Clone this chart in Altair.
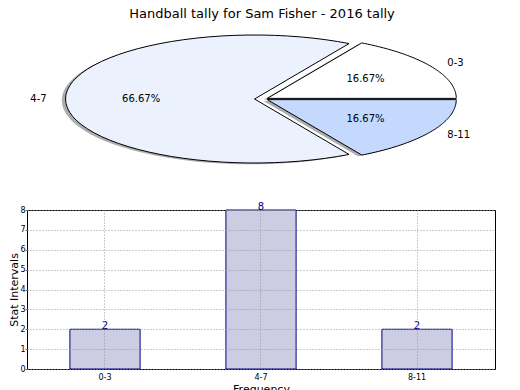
import altair as alt
import pandas as pd

# ---- data ----
categories = ["0-3", "4-7", "8-11"]
counts = [2, 8, 2]
explode = [0.02, 0.05, 0.02]
pie_colors = ["#ffffff", "#ebf1fd", "#c5d8fe"]
title_text = "Handball tally for Sam Fisher - 2016 tally"
y_ticks = [0, 1, 2, 3, 4, 5, 6, 7, 8]

df = pd.DataFrame({"cat": categories, "value": counts, "explode": explode,
                   "order": list(range(len(categories)))})

N = 60
FONT = "DejaVu Sans"

W = 468
PIE_H = 182
BAR_H = 159
# pie scale domains (x: 1 unit = 189 px, y: 1 unit = 64 px)
x_dom = [-237 / 189, -237 / 189 + W / 189]
y_dom = [-PIE_H / 2 / 64, PIE_H / 2 / 64]

xs = alt.Scale(domain=x_dom, nice=False, zero=False)
ys = alt.Scale(domain=y_dom, nice=False, zero=False)


def base_pie():
    return (
        alt.Chart(df)
        .transform_window(cum="sum(value)", sort=[alt.SortField("order")],
                          frame=[None, 0])
        .transform_joinaggregate(total="sum(value)")
        .transform_calculate(
            a0="2*PI*(datum.cum-datum.value)/datum.total",
            a1="2*PI*datum.cum/datum.total",
        )
        .transform_calculate(mid="(datum.a0+datum.a1)/2")
        .transform_calculate(
            ox="datum.explode*cos(datum.mid)",
            oy="datum.explode*sin(datum.mid)",
            pct="format(100*datum.value/datum.total, '.2f') + '%'",
        )
    )


def wedge_points(b, dx=0.0, dy=0.0):
    return (
        b.transform_calculate(idx=f"sequence(0, {N + 3})")
        .transform_flatten(["idx"])
        .transform_calculate(
            apex=f"datum.idx == 0 || datum.idx == {N + 2}",
            ang=f"datum.a0 + (datum.a1 - datum.a0) * clamp((datum.idx - 1) / {N}, 0, 1)",
        )
        .transform_calculate(
            px=f"datum.ox + (datum.apex ? 0 : cos(datum.ang)) + ({dx})",
            py=f"datum.oy + (datum.apex ? 0 : sin(datum.ang)) + ({dy})",
        )
    )


shadow = wedge_points(base_pie(), -0.02, -0.02).mark_line(
    fill="#777777", fillOpacity=0.6, strokeWidth=0
).encode(
    x=alt.X("px:Q", scale=xs, axis=None),
    y=alt.Y("py:Q", scale=ys, axis=None),
    order="idx:Q",
    detail="cat:N",
)

wedges = wedge_points(base_pie()).mark_line(
    stroke="black", strokeWidth=1, strokeJoin="miter"
).encode(
    x=alt.X("px:Q", scale=xs, axis=None),
    y=alt.Y("py:Q", scale=ys, axis=None),
    order="idx:Q",
    detail="cat:N",
    fill=alt.Fill("cat:N", scale=alt.Scale(domain=categories, range=pie_colors),
                  legend=None),
)

pct_text = base_pie().transform_calculate(
    tx="datum.ox + 0.6*cos(datum.mid)", ty="datum.oy + 0.6*sin(datum.mid)"
).mark_text(font=FONT, fontSize=10, color="black").encode(
    x=alt.X("tx:Q", scale=xs, axis=None),
    y=alt.Y("ty:Q", scale=ys, axis=None),
    text="pct:N",
)

lab_base = base_pie().transform_calculate(
    tx="datum.ox + 1.1*cos(datum.mid)", ty="datum.oy + 1.1*sin(datum.mid)"
)
lab_right = lab_base.transform_filter("cos(datum.mid) > 0").mark_text(
    font=FONT, fontSize=10, color="black", align="left"
).encode(
    x=alt.X("tx:Q", scale=xs, axis=None),
    y=alt.Y("ty:Q", scale=ys, axis=None),
    text="cat:N",
)
lab_left = lab_base.transform_filter("cos(datum.mid) <= 0").mark_text(
    font=FONT, fontSize=10, color="black", align="right"
).encode(
    x=alt.X("tx:Q", scale=xs, axis=None),
    y=alt.Y("ty:Q", scale=ys, axis=None),
    text="cat:N",
)

title = alt.Chart(alt.Data(values=[{"t": title_text}])).mark_text(
    font=FONT, fontSize=13, color="black", baseline="top"
).encode(x=alt.value(235), y=alt.value(0), text="t:N")

pie = alt.layer(shadow, wedges, pct_text, lab_right, lab_left, title).properties(
    width=W, height=PIE_H, view=alt.ViewBackground(strokeWidth=0, strokeOpacity=0)
)

# ---- bar chart ----
x_axis = alt.Axis(
    title="Frequency", labelAngle=0, labelFont=FONT, labelFontSize=8,
    labelColor="black", labelPadding=4, tickSize=0, domain=False,
    grid=True, gridColor="#999999", gridDash=[1, 2], bandPosition=0.5,
    titleFont=FONT, titleFontSize=11, titleFontWeight="normal",
    titleColor="black", titlePadding=2, zindex=1,
)
y_axis = alt.Axis(
    title="Stat Intervals", values=y_ticks, labelFont=FONT, labelFontSize=8,
    labelColor="black", labelPadding=0, tickSize=2, tickColor="#666666",
    domain=False, labelOverlap=False,
    grid=True, gridColor="#999999", gridDash=[1, 2],
    titleFont=FONT, titleFontSize=11, titleFontWeight="normal",
    titleColor="black", titlePadding=0, zindex=1,
)
x_scale = alt.Scale(domain=categories, paddingInner=0.55, paddingOuter=0.275)
y_scale = alt.Scale(domain=[0, 8], nice=False)

bars = alt.Chart(df).mark_bar(
    fill="#cccce3", stroke="#000080", strokeWidth=1
).encode(
    x=alt.X("cat:N", scale=x_scale, axis=x_axis),
    y=alt.Y("value:Q", scale=y_scale, axis=y_axis),
)

bar_text = alt.Chart(df).mark_text(
    font=FONT, fontSize=10, color="#000080", baseline="bottom", dy=2
).encode(
    x=alt.X("cat:N", scale=x_scale, axis=x_axis),
    y=alt.Y("value:Q", scale=y_scale, axis=y_axis),
    text="value:Q",
)

bar = alt.layer(bars, bar_text).properties(width=W, height=BAR_H)

chart = alt.vconcat(pie, bar, spacing=20, bounds="flush").configure_view(
    stroke="black", strokeWidth=1
).properties(padding=0, background="white")

chart.save("out.html", embed_options={"renderer": "svg", "actions": False})
